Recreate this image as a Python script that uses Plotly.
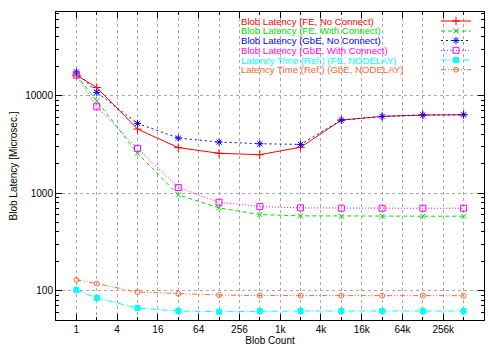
import math
import plotly.graph_objects as go

# ---- data ----
blob_count = [1, 2, 8, 32, 128, 512, 2048, 8192, 32768, 131072, 524288]

fe_no_connect = [16200, 12100, 4540, 2930, 2560, 2480, 2950, 5610, 6120, 6320, 6360]
fe_with_connect = [16200, 8850, 2560, 960, 706, 603, 585, 580, 580, 580, 580]
gbe_no_connect = [17500, 10800, 5190, 3670, 3340, 3210, 3160, 5610, 6120, 6320, 6360]
gbe_with_connect = [16200, 7680, 2880, 1140, 807, 728, 706, 700, 700, 700, 700]
fe_nodelay = [102, 84, 66.4, 61.8, 60.8, 61.8, 61.8, 61.8, 61.8, 61.8, 61.8]
gbe_nodelay = [129, 118, 96.8, 93, 90.1, 89, 88.8, 88.8, 88.8, 88.8, 88.8]

labels = [
    "Blob Latency (FE, No Connect)",
    "Blob Latency (FE, With Connect)",
    "Blob Latency (GbE, No Connect)",
    "Blob Latency (GbE, With Connect)",
    "Latency Time (Ref.) (FE, NODELAY)",
    "Latency Time (Ref.) (GbE, NODELAY)",
]
series = [fe_no_connect, fe_with_connect, gbe_no_connect, gbe_with_connect, fe_nodelay, gbe_nodelay]

x_tick_vals = [1, 4, 16, 64, 256, 1024, 4096, 16384, 65536, 262144]
x_tick_text = ["1", "4", "16", "64", "256", "1k", "4k", "16k", "64k", "256k"]
x_minor_vals = [2, 8, 32, 128, 512, 2048, 8192, 32768, 131072, 524288]
y_tick_vals = [100, 1000, 10000]
y_tick_text = ["100", "1000", "10000"]

# ---- styles ----
colors = ["#ff0000", "#00e000", "#0000ff", "#ff00ff", "#00ffff", "#ff6633"]
dashes = ["solid", "4px,3px", "2px,3px", "1px,2px", "6px,2px,1px,2px", "5px,2px,1px,2px,1px,2px"]
symbols = ["cross-thin-open", "x-thin-open", "asterisk-open", "square-open", "square", "circle-open"]
sizes = [6, 5, 6, 6, 5, 5]

FONT = "Liberation Sans, Arial, sans-serif"
# the page body has an 8px margin; the figure is sized/offset to compensate
OFF = 8
W, H = 500 - OFF, 350 - OFF
L, R, T, B = 56 - OFF, 16, 12 - OFF, 30
pw, ph = W - L - R, H - T - B   # 428 x 308 plot area (page px 56..484, 12..320)

fig = go.Figure()
legend_names = ["legend", "legend2", "legend3", "legend4", "legend5", "legend6"]
row_y_px = [21, 31, 40.5, 50.3, 60, 69.7]   # page pixel rows of the key entries

for i in range(6):
    fig.add_trace(go.Scatter(
        x=blob_count, y=series[i], mode="lines+markers",
        name=" ",
        legend=legend_names[i],
        showlegend=True,
        line=dict(color=colors[i], width=1, dash=dashes[i]),
        marker=dict(symbol=symbols[i], size=sizes[i], color=colors[i],
                    line=dict(color=colors[i], width=1)),
        hovertext=labels[i],
    ))

layout_legends = {}
annotations = []
for i in range(6):
    ypaper = (320 - row_y_px[i]) / ph
    layout_legends[legend_names[i]] = dict(
        x=(436 - 56) / pw, xanchor="left", y=ypaper, yanchor="middle",
        bgcolor="rgba(0,0,0,0)", borderwidth=0, itemwidth=30,
        font=dict(family=FONT, size=10, color=colors[i]),
    )
    annotations.append(dict(
        x=(240 - 56) / pw, y=ypaper, xref="paper", yref="paper",
        xanchor="left", yanchor="middle", showarrow=False, borderpad=0,
        text=labels[i], font=dict(family=FONT, size=9.6, color=colors[i]),
    ))

grid_col = "#a8a8a8"
fig.update_layout(
    width=W, height=H,
    margin=dict(l=L, r=R, t=T, b=B, autoexpand=False),
    paper_bgcolor="white", plot_bgcolor="white",
    font=dict(family=FONT, size=10, color="black"),
    showlegend=True,
    annotations=annotations,
    **layout_legends,
)
fig.update_xaxes(
    type="log", range=[math.log10(0.5), math.log10(2 ** 20)],
    tickmode="array", tickvals=x_tick_vals, ticktext=x_tick_text,
    ticks="inside", ticklen=6, tickcolor="black",
    showline=True, linecolor="black", linewidth=1, mirror="ticks",
    showgrid=True, gridcolor=grid_col, griddash="dot", gridwidth=1,
    minor=dict(tickvals=x_minor_vals, ticks="inside", ticklen=3, tickcolor="black",
               showgrid=True, gridcolor=grid_col, griddash="dot", gridwidth=1),
    zeroline=False,
    title=dict(text="Blob Count", font=dict(family=FONT, size=10), standoff=2),
)
y_minor = [m * 10 ** e for e in range(1, 5) for m in range(2, 10)]
fig.update_yaxes(
    type="log", range=[math.log10(50), math.log10(72000)],
    tickmode="array", tickvals=y_tick_vals, ticktext=y_tick_text,
    ticks="inside", ticklen=6, tickcolor="black",
    showline=True, linecolor="black", linewidth=1, mirror="ticks",
    showgrid=True, gridcolor=grid_col, griddash="dot", gridwidth=1,
    minor=dict(tickvals=y_minor, ticks="inside", ticklen=3, tickcolor="black", showgrid=False),
    zeroline=False,
    title=dict(text="Blob Latency [Microsec.]", font=dict(family=FONT, size=10), standoff=12),
)

fig.write_html("out.html")
